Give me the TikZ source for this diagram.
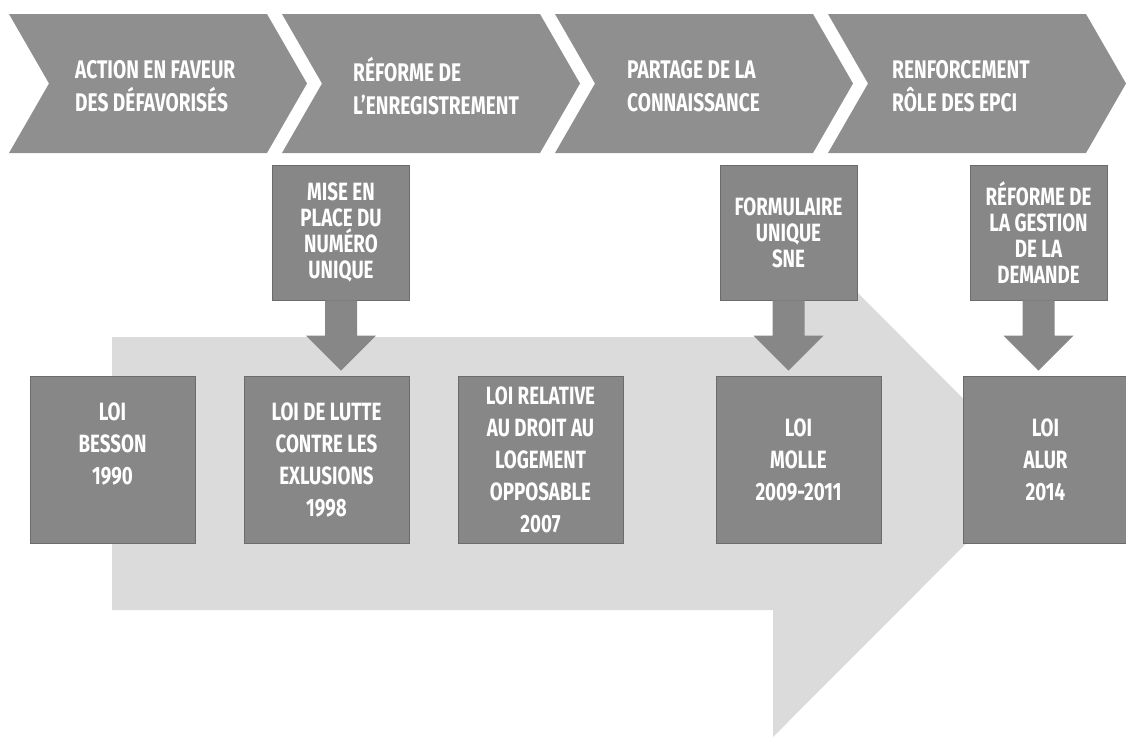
\documentclass[tikz,border=0pt]{standalone}
\usepackage{fontspec}
\newfontfamily\cond[FakeStretch=0.75]{Fira Sans}
\usetikzlibrary{calc}
\definecolor{chevfill}{gray}{0.56}
\definecolor{boxfill}{gray}{0.53}
\definecolor{boxedge}{gray}{0.42}
\definecolor{lightfill}{gray}{0.86}
\tikzset{
  chevron/.style={fill=chevfill},
  chevtext/.style={anchor=west, align=left, text=white, inner sep=0pt,
    font=\cond\bfseries\fontsize{25.5}{33}\selectfont},
  topbox/.style={fill=boxfill, draw=boxedge, line width=0.8pt,
    minimum width=137pt, minimum height=135pt, align=center, text=white,
    inner sep=0pt, font=\cond\bfseries\fontsize{25}{26}\selectfont},
  lawbox/.style={fill=boxfill, draw=boxedge, line width=0.8pt,
    minimum width=165pt, minimum height=167pt, align=center, text=white,
    inner sep=0pt, font=\cond\bfseries\fontsize{25}{32}\selectfont},
  blockarrow/.style={fill=boxfill},
  bigarrow/.style={fill=lightfill}
}
\newcommand{\dnarrow}[2]{%
  \fill[blockarrow] ($(#1.south)+(-16,0)$) -- ($(#1.south)+(16,0)$)
    -- ($(#1.south |- #2.north)+(16,-40)$) -- ($(#1.south |- #2.north)+(35,-40)$)
    -- ($(#1.south |- #2.north)+(0,-5)$)
    -- ($(#1.south |- #2.north)+(-35,-40)$) -- ($(#1.south |- #2.north)+(-16,-40)$)
    -- cycle;}
\begin{document}
\begin{tikzpicture}[x=1pt,y=-1pt]
  \useasboundingbox (0,0) rectangle (1126,740);
  \clip (0,0) rectangle (1126,740);
  % big light arrow
  \fill[bigarrow] (112,337) -- (773,337) -- (773,208) -- (1037,472.5)
    -- (773,737) -- (773,610) -- (112,610) -- cycle;
  % chevrons
  \foreach \cx in {9,282,555,828} {
    \fill[chevron] (\cx,14) -- (\cx+258,14) -- (\cx+298,83.5) -- (\cx+258,153)
      -- (\cx,153) -- (\cx+40,83.5) -- cycle;
  }
  \node[chevtext] (c1) at (75,86) {ACTION EN FAVEUR\\DES DÉFAVORISÉS};
  \node[chevtext] (c2) at (353,86) {RÉFORME DE\\L’ENREGISTREMENT};
  \node[chevtext] (c3) at (627,86) {PARTAGE DE LA\\CONNAISSANCE};
  \node[chevtext] (c4) at (892,86) {RENFORCEMENT\\RÔLE DES EPCI};
  % top boxes
  \node[topbox] (mise) at (341,232.5) {MISE EN\\PLACE DU\\NUMÉRO\\UNIQUE};
  \node[topbox] (form) at (788.5,232.5) {FORMULAIRE\\UNIQUE\\SNE};
  \node[topbox] (gest) at (1038.5,232.5) {RÉFORME DE\\LA GESTION\\DE LA\\DEMANDE};
  % law boxes
  \node[lawbox] (besson) at (112.5,459.5) {LOI\\BESSON\\1990\\\mbox{}};
  \node[lawbox] (lutte) at (326.5,459.5) {LOI DE LUTTE\\CONTRE LES\\EXLUSIONS\\1998};
  \node[lawbox] (dalo) at (540.5,459.5) {LOI RELATIVE\\AU DROIT AU\\LOGEMENT\\OPPOSABLE\\2007};
  \node[lawbox] (molle) at (798.5,459.5) {LOI\\MOLLE\\2009-2011};
  \node[lawbox] (alur) at (1045.5,459.5) {LOI\\ALUR\\2014};
  % block arrows
  \dnarrow{mise}{lutte}
  \dnarrow{form}{molle}
  \dnarrow{gest}{alur}
\end{tikzpicture}
\end{document}
